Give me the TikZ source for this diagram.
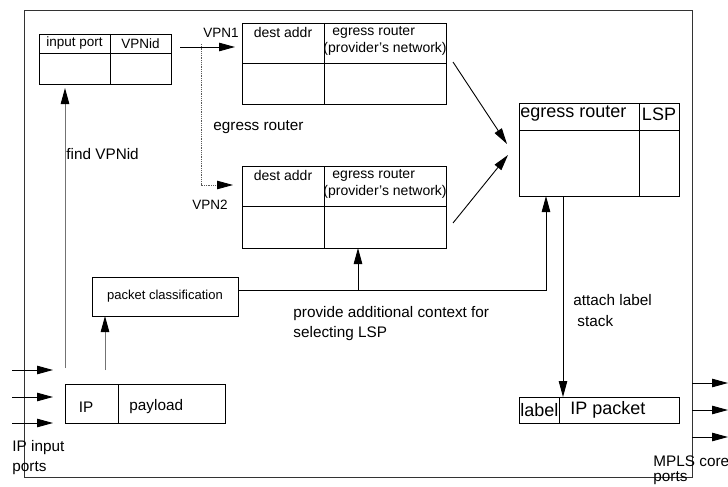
\documentclass[tikz,border=0pt]{standalone}
\usepackage{fontspec}
\setmainfont{Liberation Sans}
\usetikzlibrary{arrows.meta,calc}

\begin{document}
\begin{tikzpicture}[x=1pt,y=-1pt,
  line width=0.9pt,
  box/.style={draw, line width=0.9pt, inner sep=0pt, outer sep=0pt},
  arr/.style={-{Triangle[length=16pt,width=8.5pt,color=black]}},
  grayline/.style={draw=black!55},
  dotline/.style={draw=black!65, line width=0.8pt, densely dotted},
  txt/.style={inner sep=0pt, anchor=west},
  ctr/.style={inner sep=0pt},
  fa/.style={font=\fontsize{13}{15}\selectfont},
  fb/.style={font=\fontsize{13.5}{16}\selectfont},
  fc/.style={font=\fontsize{14}{16}\selectfont},
  fd/.style={font=\fontsize{15.3}{20}\selectfont},
  fe/.style={font=\fontsize{18}{20}\selectfont}
]
\useasboundingbox (0,0) rectangle (728,487);

% router frame
\node[box, draw=black!80, minimum width=668, minimum height=467] (frame) at (358,243.5) {};

% input port / VPNid table
\node[box, minimum width=132, minimum height=50] (inport) at (105,59) {};
\draw ($(inport.north west)+(0,19)$) -- ($(inport.north east)+(0,19)$);
\draw ($(inport.north west)+(71,0)$) -- ($(inport.south west)+(71,0)$);
\node[ctr, fb] at ($(inport.north west)+(35.5,9.5)$) {input port};
\node[ctr, fb] at ($(inport.north west)+(101.5,9.5)$) {VPNid};

% per-VPN forwarding tables
\node[box, minimum width=204, minimum height=81] (vpn1) at (344,63.5) {};
\draw ($(vpn1.north west)+(0,40)$) -- ($(vpn1.north east)+(0,40)$);
\draw ($(vpn1.north west)+(82,0)$) -- ($(vpn1.south west)+(82,0)$);
\node[ctr, fc] at ($(vpn1.north west)+(41,9)$) {dest addr};
\node[txt, fc] at ($(vpn1.north west)+(90,9)$) {egress router};
\node[txt, fc] at ($(vpn1.north west)+(81,26)$) {(provider's network)};

\node[box, minimum width=204, minimum height=82] (vpn2) at (344,207) {};
\draw ($(vpn2.north west)+(0,40)$) -- ($(vpn2.north east)+(0,40)$);
\draw ($(vpn2.north west)+(82,0)$) -- ($(vpn2.south west)+(82,0)$);
\node[ctr, fc] at ($(vpn2.north west)+(41,9)$) {dest addr};
\node[txt, fc] at ($(vpn2.north west)+(90,9)$) {egress router};
\node[txt, fc] at ($(vpn2.north west)+(81,26)$) {(provider's network)};

% egress router / LSP table
\node[box, minimum width=160, minimum height=93] (egtab) at (599,149.5) {};
\draw ($(egtab.north west)+(0,27)$) -- ($(egtab.north east)+(0,27)$);
\draw ($(egtab.north west)+(120,0)$) -- ($(egtab.south west)+(120,0)$);
\node[txt, fe] at ($(egtab.north west)+(1,11)$) {egress router};
\node[ctr, fe] at ($(egtab.north west)+(140,11)$) {LSP};

% labelled packet
\node[box, minimum width=160, minimum height=26] (lbl) at (599,410) {};
\draw ($(lbl.north west)+(40,0)$) -- ($(lbl.south west)+(40,0)$);
\node[txt, fe] at ($(lbl.west)+(1,0)$) {label};
\node[txt, fe] at ($(lbl.west)+(51,0)$) {IP packet};

% packet classification
\node[box, minimum width=146, minimum height=39] (pc) at (165,296.5) {};
\node[ctr, fa] at (pc.center) {packet classification};

% incoming IP packet
\node[box, minimum width=160, minimum height=39] (ippay) at (145,403.5) {};
\draw ($(ippay.north west)+(53,0)$) -- ($(ippay.south west)+(53,0)$);
\node[ctr, fd] at ($(ippay.west)+(21,3.5)$) {IP};
\node[txt, fd] at ($(ippay.west)+(64,3.5)$) {payload};

% connectors
\coordinate (v1start) at (180,47);
\draw[arr, shorten >=7pt] (v1start) -- (v1start -| vpn1.west);
\coordinate (dotstart) at (201,44);
\draw[dotline, arr, shorten >=9pt] (dotstart) |- ($(vpn2.north west)+(0,19)$);

\draw[arr] ($(vpn1.east)+(7,-1.5)$) -- ($(egtab.west)+(-12,-5.5)$);
\draw[arr] ($(vpn2.east)+(7,16)$) -- ($(egtab.west)+(-11,5.5)$);

\draw[arr] ($(pc.north east)+(0,13)$) -| ($(egtab.south west)+(27,0)$);
\draw[arr] ($(vpn2.south west)+(116,42)$) -- ($(vpn2.south west)+(116,0)$);

\draw[arr] ($(egtab.south west)+(44,0)$) -- ($(lbl.north west)+(44,0)$);

\draw[grayline, arr] ($(ippay.north west)+(40,-14)$) -- ($(pc.south west)+(13,0)$);
\draw[grayline, arr] ($(ippay.north west)+(0,-16)$) -- ($(inport.south west)+(26,4)$);

% input and output ports
\foreach \yy [count=\i] in {370,397,423} {
  \coordinate (in\i) at (12,\yy);
  \draw[arr, shorten >=12pt] (in\i) -- (in\i -| ippay.west);
}
\foreach \yy [count=\i] in {383,410,437} {
  \coordinate (out\i) at (728,\yy);
  \draw[arr] (out\i -| frame.east) -- (out\i);
}

% labels
\node[txt, fb] at (203,33) {VPN1};
\node[txt, fb] at (192,205) {VPN2};
\node[txt, fd] at (213,127) {egress router};
\node[txt, fd] at (66,154) {find VPNid};
\node[txt, fd, align=left] at (293,324) {provide additional context for\\selecting LSP};
\node[txt, fd] at (573,300) {attach label};
\node[txt, fd] at (577,321) {stack};
\node[txt, fd, align=left] at (12,458) {IP input\\ports};
\node[txt, fd] at (653,461) {MPLS core};
\node[txt, fd] at (653,478) {ports};
\end{tikzpicture}
\end{document}
